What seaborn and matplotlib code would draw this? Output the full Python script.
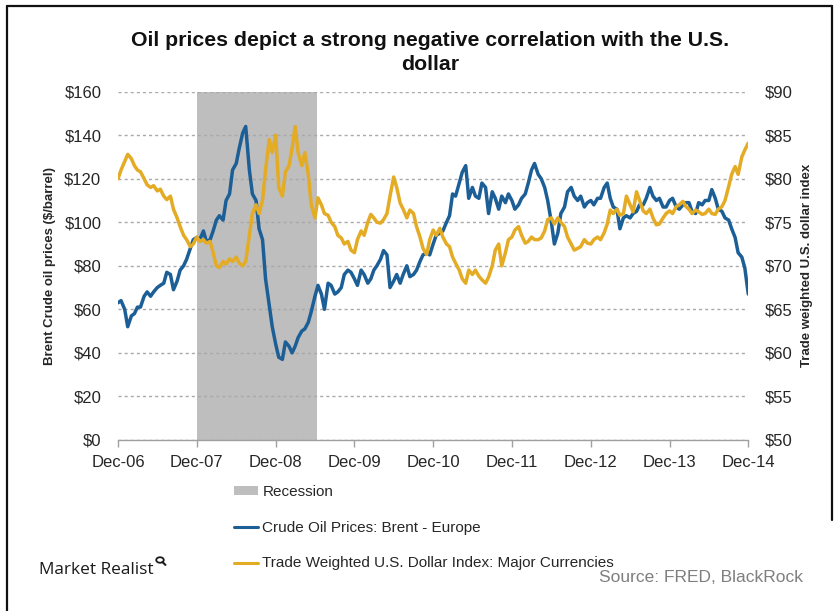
import numpy as np
import pandas as pd
import matplotlib
matplotlib.use("Agg")
import matplotlib.pyplot as plt
import seaborn as sns
from matplotlib.patches import Patch, Circle
from matplotlib.lines import Line2D

# ---------------- data (semi-monthly, 1st and 15th) ----------------
dates = pd.date_range("2006-12-01", "2014-12-01", freq="SMS")

brent = [
    63, 64,
    # 2007
    60, 52, 57, 58, 61, 61, 66, 68, 66, 68, 70, 71, 72, 77, 76, 69, 73, 78, 80, 83, 88, 92, 93, 92,
    # 2008
    96, 91, 92, 96, 101, 103, 101, 110, 113, 124, 127, 134, 141, 144, 124, 113, 110, 97, 92, 74, 62, 52, 44, 38,
    # 2009
    37, 45, 43, 40, 43, 47, 50, 51, 54, 59, 66, 71, 67, 60, 72, 71, 67, 68, 70, 76, 78, 77, 74, 71,
    # 2010
    78, 76, 72, 74, 78, 80, 83, 87, 85, 70, 73, 76, 72, 76, 80, 75, 76, 78, 82, 85, 86, 85, 90, 94,
    # 2011
    95, 96, 100, 103, 113, 112, 118, 123, 126, 111, 116, 112, 111, 118, 116, 104, 114, 111, 106, 112, 109, 113, 110, 106,
    # 2012
    108, 111, 113, 118, 124, 127, 122, 120, 116, 110, 100, 90, 95, 104, 107, 114, 116, 112, 110, 112, 107, 109, 110, 108,
    # 2013
    111, 111, 116, 118, 111, 107, 106, 97, 102, 103, 102, 104, 105, 108, 108, 111, 116, 112, 110, 111, 107, 107, 110, 111,
    # 2014
    107, 106, 108, 109, 109, 105, 104, 109, 108, 110, 110, 115, 111, 106, 105, 102, 101, 97, 93, 86, 84, 79, 67,
]

usd = [
    80.0, 81.0,
    # 2007
    82.0, 82.8, 82.3, 81.5, 81.0, 80.8, 80.0, 79.3, 79.0, 79.2, 78.6, 78.8, 78.0, 77.6, 78.0, 76.5, 75.5, 74.5, 73.5, 73.0, 72.2, 72.5, 73.3, 72.8,
    # 2008
    73.0, 72.6, 72.8, 71.5, 70.0, 69.8, 70.5, 70.2, 70.8, 70.5, 71.0, 70.3, 70.0, 70.5, 73.5, 76.0, 77.0, 76.0, 77.5, 81.0, 84.5, 83.0, 85.0, 79.0,
    # 2009
    78.0, 80.8, 81.5, 83.5, 86.0, 83.0, 81.5, 83.0, 80.5, 77.0, 75.5, 77.8, 77.0, 76.0, 75.8, 75.0, 74.5, 73.5, 73.2, 72.5, 72.8, 71.8, 71.5, 73.0,
    # 2010
    74.0, 73.5, 75.0, 75.9, 75.5, 75.0, 74.9, 75.3, 76.0, 78.0, 80.2, 79.0, 77.2, 76.5, 75.5, 76.4, 76.0, 74.5, 73.3, 72.0, 71.3, 73.0, 74.1, 73.5,
    # 2011
    74.3, 73.3, 72.5, 72.2, 71.0, 70.3, 69.5, 68.5, 68.0, 69.5, 69.0, 69.5, 68.8, 68.4, 68.0, 68.7, 70.0, 71.8, 72.5, 70.0, 71.5, 73.0, 73.3, 74.1,
    # 2012
    74.5, 73.5, 72.6, 72.8, 73.3, 73.0, 73.0, 73.2, 74.0, 75.3, 75.5, 74.8, 75.5, 75.0, 74.5, 73.3, 72.5, 71.8, 72.0, 72.2, 73.0, 72.6, 72.5, 73.0,
    # 2013
    73.3, 73.0, 73.8, 74.8, 76.4, 76.0, 76.5, 75.8, 76.0, 78.0, 77.0, 76.2, 78.5, 77.5, 76.3, 76.0, 76.5, 75.5, 74.7, 74.8, 75.5, 76.0, 76.3, 76.0,
    # 2014
    76.8, 77.0, 77.4, 76.8, 76.5, 76.0, 76.4, 76.2, 75.9, 76.0, 76.5, 76.0, 75.9, 76.5, 76.8, 77.5, 79.1, 80.5, 81.4, 80.5, 82.5, 83.3, 84.1,
]

tick_dates = pd.date_range("2006-12-01", "2014-12-01", freq="12MS")
tick_labels = ["Dec-06", "Dec-07", "Dec-08", "Dec-09", "Dec-10", "Dec-11", "Dec-12", "Dec-13", "Dec-14"]
left_ticks = [0, 20, 40, 60, 80, 100, 120, 140, 160]
right_ticks = [50, 55, 60, 65, 70, 75, 80, 85, 90]
recession = (pd.Timestamp("2007-12-01"), pd.Timestamp("2009-06-12"))

df = pd.DataFrame({"date": dates, "brent": brent, "usd": usd})

# ---------------- style ----------------
sns.set_theme(style="white")
plt.rcParams["font.family"] = ["Liberation Sans", "DejaVu Sans"]

BLUE = "#1C5F97"
GOLD = "#E4AB24"
GREY_SPAN = "#BEBEBE"
GRID = "#A9A9A9"
TXT = "#262626"

fig = plt.figure(figsize=(8.37, 6.11), dpi=100)
ax = fig.add_axes([0.141, 0.280, 0.753, 0.570])
ax2 = ax.twinx()

ax.axvspan(recession[0], recession[1], color=GREY_SPAN, zorder=0.2, lw=0)
sns.lineplot(data=df, x="date", y="brent", ax=ax, color=BLUE, lw=2.5, zorder=3)
sns.lineplot(data=df, x="date", y="usd", ax=ax2, color=GOLD, lw=2.5, zorder=3)

ax.set_xlim(dates[0], dates[-1])
ax.set_ylim(0, 160)
ax2.set_ylim(50, 90)
ax.set_yticks(left_ticks)
ax.set_yticklabels([f"${v}" for v in left_ticks])
ax2.set_yticks(right_ticks)
ax2.set_yticklabels([f"${v}" for v in right_ticks])
ax.set_xticks(tick_dates)
ax.set_xticklabels(tick_labels)

ax.set_axisbelow(True)
ax.yaxis.grid(True, color=GRID, linestyle=(0, (2.2, 2.2)), lw=1.0)
ax.xaxis.grid(False)
ax2.grid(False)

for a in (ax, ax2):
    for s in ("top", "right", "left", "bottom"):
        a.spines[s].set_visible(False)
ax.spines["bottom"].set_visible(True)
ax.spines["bottom"].set_color("#A0A0A0")
ax.spines["bottom"].set_linewidth(1.0)

ax.tick_params(axis="x", direction="out", length=5, width=1, color="#A0A0A0",
               labelsize=12, labelcolor=TXT, pad=6, bottom=True)
ax.tick_params(axis="y", length=0, labelsize=12, labelcolor=TXT, pad=12)
ax2.tick_params(axis="y", length=0, labelsize=12, labelcolor=TXT, pad=12)

ax.set_xlabel("")
ax.set_ylabel("Brent Crude oil prices ($/barrel)", fontsize=9.5, fontweight="bold",
              color=TXT, labelpad=6)
ax2.set_ylabel("Trade weighted U.S. dollar index", fontsize=9.5, fontweight="bold",
               color=TXT, labelpad=6)

# title
fig.text(430 / 837, 1 - 31 / 611,
         "Oil prices depict a strong negative correlation with the U.S.\ndollar",
         ha="center", va="top", fontsize=15.3, fontweight="bold", color="#111111",
         linespacing=1.3)

# legend
handles = [
    Patch(facecolor=GREY_SPAN, edgecolor="none"),
    Line2D([0], [0], color=BLUE, lw=2.2),
    Line2D([0], [0], color=GOLD, lw=2.2),
]
labels = ["Recession", "Crude Oil Prices: Brent - Europe",
          "Trade Weighted U.S. Dollar Index: Major Currencies"]
fig.legend(handles, labels, loc="upper left", bbox_to_anchor=(234 / 837, 1 - 485 / 611),
           frameon=False, fontsize=11, labelspacing=1.42, handlelength=1.55,
           handleheight=0.5, handletextpad=0.3, borderpad=0, borderaxespad=0,
           labelcolor=TXT)

# branding and source
fig.text(39 / 837, 1 - 570 / 611, "Market Realist", ha="left", va="center",
         fontsize=12.4, color="#1a1a1a", fontweight="normal",
         family=["Open Sans", "DejaVu Sans"])
cx, cy = 160 / 837, 1 - 560 / 611
fig.patches.append(Circle((cx, cy), 0.0045, transform=fig.transFigure,
                          fill=False, edgecolor="#1a1a1a", lw=1.3))
fig.lines.append(Line2D([cx + 0.003, cx + 0.0065], [cy - 0.0035, cy - 0.008],
                        transform=fig.transFigure, color="#1a1a1a", lw=1.5))
fig.text(803 / 837, 1 - 577 / 611, "Source: FRED, BlackRock", ha="right", va="center",
         fontsize=12.5, color="#7f7f7f")

# outer border (left, top, right)
fig.lines.append(Line2D([7 / 837, 7 / 837], [0, 1 - 6 / 611], transform=fig.transFigure,
                        color="#111111", lw=1.6))
fig.lines.append(Line2D([7 / 837, 832 / 837], [1 - 6 / 611, 1 - 6 / 611],
                        transform=fig.transFigure, color="#111111", lw=1.6))
fig.lines.append(Line2D([832 / 837, 832 / 837], [1 - 6 / 611, 1 - 520 / 611],
                        transform=fig.transFigure, color="#111111", lw=1.6))

fig.savefig("out.png", dpi=100)
